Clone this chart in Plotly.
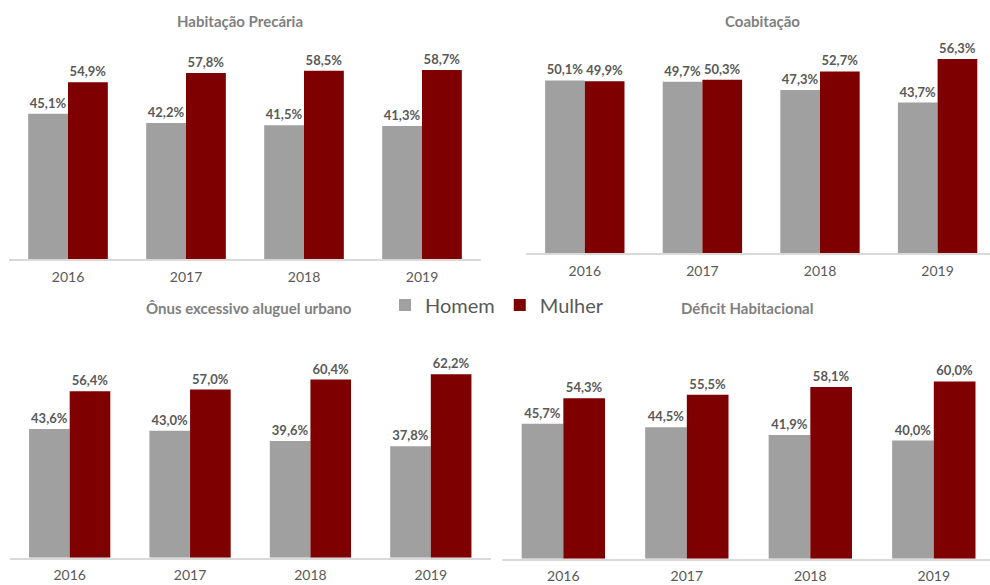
import plotly.graph_objects as go

# ---- data ----
years = ["2016", "2017", "2018", "2019"]
series_names = ["Homem", "Mulher"]
panel_titles = ["Habitação Precária", "Coabitação",
                "Ônus excessivo aluguel urbano", "Déficit Habitacional"]
hab_homem = [45.1, 42.2, 41.5, 41.3]
hab_mulher = [54.9, 57.8, 58.5, 58.7]
coab_homem = [50.1, 49.7, 47.3, 43.7]
coab_mulher = [49.9, 50.3, 52.7, 56.3]
onus_homem = [43.6, 43.0, 39.6, 37.8]
onus_mulher = [56.4, 57.0, 60.4, 62.2]
def_homem = [45.7, 44.5, 41.9, 40.0]
def_mulher = [54.3, 55.5, 58.1, 60.0]

# ---- layout constants (pixels in a 990x585 canvas) ----
W, H = 990, 585
FONT = "Lato"
GRAY = "#A0A0A0"
RED = "#7F0000"
TXT = "#595959"
TITLE_C = "#7F7F7F"

def px_x(x):
    return x / W

def px_y(y):
    return 1 - y / H

# (x left px, x right px, x range, baseline px, px per unit, y max)
panels = [
    (9, 481, [-0.5, 3.5], 259.0, 3.22, 65),
    (526, 990, [-0.5, 3.4456], 253.3, 3.45, 65),
    (9.5, 491, [-0.5, 3.5], 557.7, 2.95, 75),
    (501.6, 990, [-0.5, 3.455], 558.7, 2.955, 75),
]
data_pairs = [(hab_homem, hab_mulher), (coab_homem, coab_mulher),
              (onus_homem, onus_mulher), (def_homem, def_mulher)]
title_pos = [(240, 21), (762, 21), (249, 308), (747, 308)]

fig = go.Figure()
layout_axes = {}
for i, ((xl, xr, xrng, base, scale, ymax), (hom, mul)) in enumerate(zip(panels, data_pairs)):
    n = "" if i == 0 else str(i + 1)
    xa, ya = "x" + n, "y" + n
    top = base - ymax * scale
    for name, vals, col in ((series_names[0], hom, GRAY), (series_names[1], mul, RED)):
        fig.add_trace(go.Bar(
            x=years, y=vals, name=name, marker_color=col,
            marker_line_width=0,
            texttemplate="%{y:.1f}%", textposition="outside",
            textfont=dict(family=FONT, size=13, color=TXT, weight="bold"),
            cliponaxis=False, showlegend=(i == 0), legendgroup=name,
            xaxis=xa, yaxis=ya, hoverinfo="skip",
        ))
    layout_axes["xaxis" + n] = dict(
        domain=[px_x(xl), px_x(xr)], range=xrng, type="category",
        anchor=ya, showline=True, linecolor="#D9D9D9", linewidth=1.5,
        ticks="", showgrid=False, zeroline=False, ticklabelstandoff=4,
        tickfont=dict(family=FONT, size=14, color=TXT), fixedrange=True,
    )
    layout_axes["yaxis" + n] = dict(
        domain=[px_y(base), px_y(top)], range=[0, ymax], anchor=xa,
        showticklabels=False, showgrid=False, zeroline=False,
        showline=False, ticks="", fixedrange=True,
    )

annotations = []
for t, (tx, ty) in zip(panel_titles, title_pos):
    annotations.append(dict(
        text=t, x=px_x(tx), y=px_y(ty), xref="paper", yref="paper",
        xanchor="center", yanchor="middle", showarrow=False,
        font=dict(family=FONT, size=15, color=TITLE_C, weight="bold"),
    ))

fig.update_layout(
    width=W, height=H,
    margin=dict(l=0, r=0, t=0, b=0),
    paper_bgcolor="white", plot_bgcolor="white",
    barmode="group", bargap=0.325, bargroupgap=0,
    separators=",.",
    annotations=annotations,
    legend=dict(orientation="h", x=px_x(385), y=px_y(305),
                xanchor="left", yanchor="middle",
                font=dict(family=FONT, size=20, color=TXT),
                bgcolor="rgba(0,0,0,0)", itemclick=False),
    **layout_axes,
)

fig.write_html("out.html", config={"displayModeBar": False},
               post_script="document.body.style.margin='0';document.body.style.overflow='hidden';")
